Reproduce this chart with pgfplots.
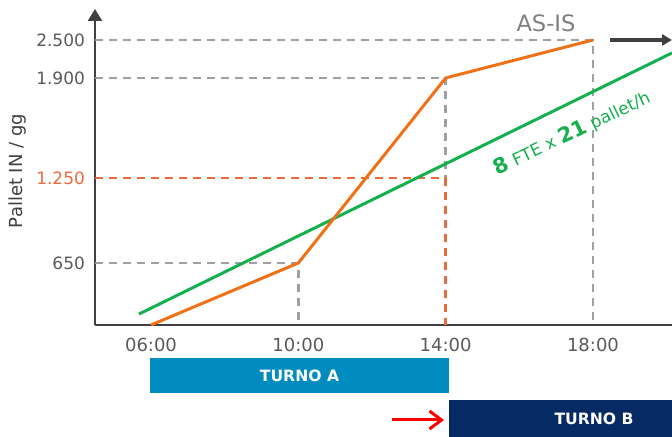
\documentclass[border=0pt]{standalone}
\usepackage{fontspec}
\setmainfont{DejaVu Sans}
\usepackage{pgfplots}
\pgfplotsset{compat=1.18}
\usetikzlibrary{arrows.meta}

\definecolor{axisgray}{HTML}{404040}
\definecolor{dashgray}{HTML}{A0A0A0}
\definecolor{lineorange}{HTML}{EF7118}
\definecolor{refred}{HTML}{EB6A3C}
\definecolor{capgreen}{HTML}{14B04E}
\definecolor{turnoA}{HTML}{008CBE}
\definecolor{turnoB}{HTML}{062A64}
\definecolor{labelgray}{HTML}{595959}
\definecolor{asisgray}{HTML}{808080}

\begin{document}
\begin{tikzpicture}[x=0.5pt,y=0.5pt]
\useasboundingbox (0,0) rectangle (672,437);
\begin{axis}[
  at={(47.5pt,56pt)}, anchor=origin,
  scale only axis, width=288.5pt, height=158pt,
  xmin=4.4795, xmax=20.146, ymin=0, ymax=2989,
  clip=false,
  % schematic vertical scale: piecewise linear between the labelled levels
  y coord trafo/.code={\pgfmathparse{ifthenelse(#1<650, #1/650*62,
      ifthenelse(#1<1250, 62+(#1-650)/600*85,
      ifthenelse(#1<1900, 147+(#1-1250)/650*100, 247+(#1-1900)/600*38)))}},
  axis x line=bottom, axis y line=left,
  x axis line style={-, line width=1pt, axisgray},
  y axis line style={-{Triangle[width=7pt,length=6pt]}, line width=1pt, axisgray},
  major tick length=0pt,
  xtick={6,10,14,18},
  xticklabels={06:00,10:00,14:00,18:00},
  ytick={650,1250,1900,2500},
  yticklabels={650,\textcolor{refred}{1.250},1.900,2.500},
  xticklabel style={font=\fontsize{9}{10}\selectfont, text=labelgray, yshift=-3pt},
  yticklabel style={font=\fontsize{8.5}{10}\selectfont, text=labelgray, xshift=-1.5pt},
  guide/.style={line width=1.2pt, dash pattern=on 4pt off 3pt},
]
% guide lines to the reference levels
\addplot[guide, dashgray] coordinates {(4.4795,650) (10,650) (10,0)};
\addplot[guide, dashgray] coordinates {(4.4795,1900) (14,1900) (14,1250)};
\addplot[guide, dashgray] coordinates {(4.4795,2500) (18,2500) (18,0)};
\addplot[guide, refred] coordinates {(4.4795,1250) (14.05,1250)};
\addplot[guide, refred] coordinates {(14,1250) (14,0)};
% capacity: 8 FTE x 21 pallet/h
\addplot[capgreen, line width=1.5pt] coordinates {(5.674,115) (20.146,2295)};
% inbound pallets over the day
\addplot[lineorange, line width=1.5pt, line join=round] coordinates {(6,0) (10,650) (14,1900) (18,2500)};
\end{axis}

\node[rotate=90, text=axisgray, font=\fontsize{9}{10}\selectfont] at (18,266) {Pallet IN / gg};
\node[text=asisgray, font=\fontsize{11.3}{12}\selectfont] at (546,414) {AS-IS};
\draw[axisgray, line width=2pt, -{Triangle[length=5pt,width=5.5pt]}] (610,397) -- (672,397);
\node[rotate=25.5, text=capgreen, font=\fontsize{8.5}{10}\selectfont] at (572,304)
  {{\fontsize{10.5}{12}\selectfont\bfseries 8} FTE x {\fontsize{10.5}{12}\selectfont\bfseries 21} pallet/h};

% shifts
\fill[turnoA] (150,44) rectangle (449,79);
\node[text=white, font=\fontsize{7.8}{9}\selectfont\bfseries] at (299.5,61.5) {TURNO A};
\fill[turnoB] (449,0) rectangle (672,37);
\node[text=white, font=\fontsize{7.8}{9}\selectfont\bfseries] at (594,18.5) {TURNO B};
\draw[red, line width=1.5pt, -{Straight Barb[length=6pt,width=9pt]}] (392,17) -- (444,17);
\end{tikzpicture}
\end{document}
